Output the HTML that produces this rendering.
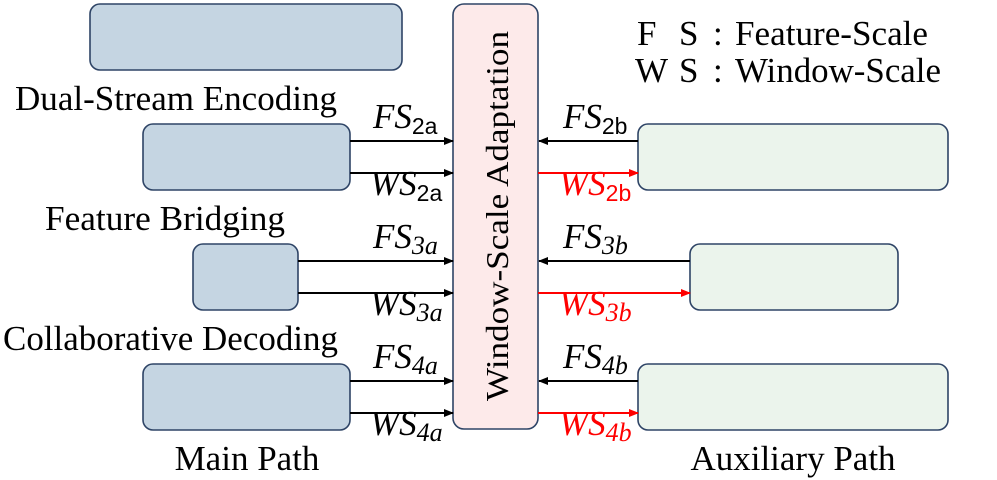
<!DOCTYPE html>
<html><head><meta charset="utf-8"><style>
html,body{margin:0;padding:0;background:#fff;}
svg{display:block;}
.t{font-family:"Liberation Serif",serif;font-size:35px;fill:#000;}
.m{font-family:"Liberation Serif",serif;font-style:italic;font-size:35px;}
.s{font-family:"Liberation Sans",sans-serif;font-size:23px;font-style:normal;}
.si{font-family:"Liberation Serif",serif;font-style:italic;font-size:26px;}
</style></head><body>
<svg width="997" height="480" viewBox="0 0 997 480" xmlns="http://www.w3.org/2000/svg">
<defs>
<marker id="ak" markerWidth="10" markerHeight="8" refX="9" refY="4" orient="auto" markerUnits="userSpaceOnUse"><path d="M0,0 L10,4 L0,8 z" fill="#000"/></marker>
<marker id="ar" markerWidth="10" markerHeight="8" refX="9" refY="4" orient="auto" markerUnits="userSpaceOnUse"><path d="M0,0 L10,4 L0,8 z" fill="#f00"/></marker>
</defs>
<g stroke="#2e4466" stroke-width="1.6">
<rect x="90" y="4" width="312" height="66" rx="10" fill="#c5d5e2"/>
<rect x="143" y="124" width="207" height="66" rx="10" fill="#c5d5e2"/>
<rect x="193" y="244" width="105" height="66" rx="10" fill="#c5d5e2"/>
<rect x="143" y="364" width="207" height="66" rx="10" fill="#c5d5e2"/>
<rect x="453" y="4" width="85" height="425" rx="11" fill="#fdeaea"/>
<rect x="638" y="124" width="310" height="66" rx="10" fill="#ebf4ec"/>
<rect x="690" y="244" width="208" height="66" rx="10" fill="#ebf4ec"/>
<rect x="638" y="364" width="310" height="66" rx="10" fill="#ebf4ec"/>
</g>
<g stroke="#000" stroke-width="2">
<line x1="350" y1="141" x2="453" y2="141" marker-end="url(#ak)"/>
<line x1="350" y1="173" x2="453" y2="173" marker-end="url(#ak)"/>
<line x1="298" y1="261" x2="453" y2="261" marker-end="url(#ak)"/>
<line x1="298" y1="293" x2="453" y2="293" marker-end="url(#ak)"/>
<line x1="350" y1="381" x2="453" y2="381" marker-end="url(#ak)"/>
<line x1="350" y1="413" x2="453" y2="413" marker-end="url(#ak)"/>
<line x1="638" y1="141" x2="539" y2="141" marker-end="url(#ak)"/>
<line x1="690" y1="261" x2="539" y2="261" marker-end="url(#ak)"/>
<line x1="638" y1="381" x2="539" y2="381" marker-end="url(#ak)"/>
</g>
<g stroke="#f00" stroke-width="2">
<line x1="538" y1="173" x2="638" y2="173" marker-end="url(#ar)"/>
<line x1="538" y1="293" x2="690" y2="293" marker-end="url(#ar)"/>
<line x1="538" y1="413" x2="638" y2="413" marker-end="url(#ar)"/>
</g>
<text class="t" x="15" y="110" textLength="322" lengthAdjust="spacingAndGlyphs">Dual-Stream Encoding</text>
<text class="t" x="45" y="230" textLength="240" lengthAdjust="spacingAndGlyphs">Feature Bridging</text>
<text class="t" x="3" y="350" textLength="335" lengthAdjust="spacingAndGlyphs">Collaborative Decoding</text>
<text class="t" x="247" y="470" text-anchor="middle">Main Path</text>
<text class="t" x="793" y="470" text-anchor="middle">Auxiliary Path</text>
<text class="t" x="637" y="45">F</text>
<text class="t" x="679" y="45">S</text>
<text class="t" x="713" y="45">:</text>
<text class="t" x="735" y="45" textLength="193" lengthAdjust="spacingAndGlyphs">Feature-Scale</text>
<text class="t" x="635" y="82">W</text>
<text class="t" x="679" y="82">S</text>
<text class="t" x="713" y="82">:</text>
<text class="t" x="735" y="82" textLength="206" lengthAdjust="spacingAndGlyphs">Window-Scale</text>
<text class="t" transform="translate(508,216) rotate(-90)" text-anchor="middle" textLength="370" lengthAdjust="spacingAndGlyphs" style="font-size:32px">Window-Scale Adaptation</text>
<g class="m" fill="#000">
<text x="373" y="128">FS<tspan class="s" dy="6">2a</tspan></text>
<text x="370" y="195">WS<tspan class="s" dy="6">2a</tspan></text>
<text x="373" y="248">FS<tspan class="si" dy="6">3a</tspan></text>
<text x="370" y="315">WS<tspan class="si" dy="6">3a</tspan></text>
<text x="373" y="368">FS<tspan class="si" dy="6">4a</tspan></text>
<text x="370" y="435">WS<tspan class="si" dy="6">4a</tspan></text>
<text x="563" y="128">FS<tspan class="s" dy="6">2b</tspan></text>
<text x="563" y="248">FS<tspan class="si" dy="6">3b</tspan></text>
<text x="563" y="368">FS<tspan class="si" dy="6">4b</tspan></text>
</g>
<g class="m" fill="#f00">
<text x="559" y="195">WS<tspan class="s" dy="6">2b</tspan></text>
<text x="559" y="315">WS<tspan class="si" dy="6">3b</tspan></text>
<text x="559" y="435">WS<tspan class="si" dy="6">4b</tspan></text>
</g>
</svg>
</body></html>
